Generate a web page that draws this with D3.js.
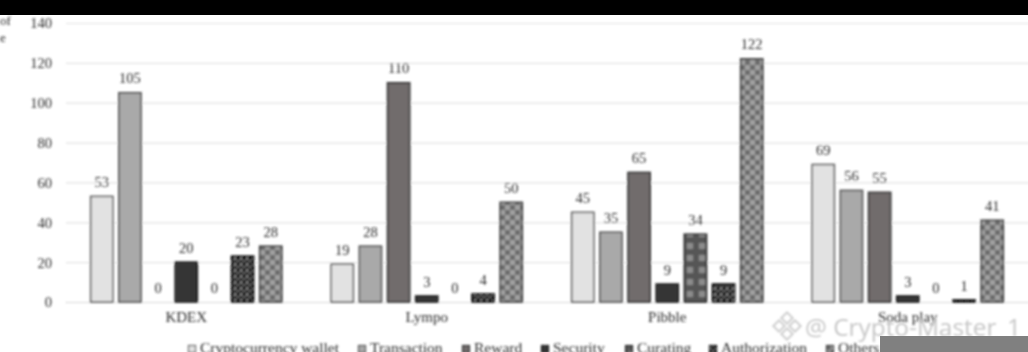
<!DOCTYPE html>
<html><head><meta charset="utf-8">
<script src="https://cdn.jsdelivr.net/npm/d3@7"></script>
<style>
html,body{margin:0;padding:0;background:#fff;overflow:hidden}
svg{display:block}
text{font-family:"Liberation Serif",serif;fill:#2c2c2c}
</style></head><body>
<svg id="c" width="1028" height="352"></svg>
<script>
const categories = ["KDEX","Lympo","Pibble","Soda play"];
const seriesNames = ["Cryptocurrency wallet","Transaction","Reward","Security","Curating","Authorization","Others"];
const cryptocurrencyWallet = [53,19,45,69];
const transaction = [105,28,35,56];
const reward = [0,110,65,55];
const security = [20,3,9,3];
const curating = [0,0,34,0];
const authorization = [23,4,9,1];
const others = [28,50,122,41];
const seriesValues = [cryptocurrencyWallet,transaction,reward,security,curating,authorization,others];
const yTicks = [0,20,40,60,80,100,120,140];

const W=1028,H=352, x0=66, x1=1040, yBase=302, yTop=23;
const svg=d3.select("#c");
const defs=svg.append("defs");
const blur=defs.append("filter").attr("id","soft").attr("filterUnits","userSpaceOnUse")
  .attr("x",-20).attr("y",-20).attr("width",W+40).attr("height",H+40);
blur.append("feGaussianBlur").attr("stdDeviation",0.8);

function pat(id,size,bg,cells,fg){
  const p=defs.append("pattern").attr("id",id).attr("patternUnits","userSpaceOnUse").attr("width",size).attr("height",size);
  p.append("rect").attr("width",size).attr("height",size).attr("fill",bg);
  cells.forEach(c=>p.append("rect").attr("x",c[0]).attr("y",c[1]).attr("width",c[2]).attr("height",c[3]).attr("fill",fg));
}
pat("pSec",2,"#2e2e2e",[[0,0,1,1]],"#4a4a4a");
pat("pCur",12,"#565656",[[3,3,6,6]],"#8c8c8c");
pat("pAut",6,"#101010",[[0,0,2,2],[3,2,2,1],[1,4,1,2],[4,4,1,1]],"#8a8a8a");
pat("pOth",10,"#6c6c6c",[[0,0,5,5],[5,5,5,5]],"#a0a0a0");

const fills=["#e2e2e2","#a9a9a9","#716c6c","url(#pSec)","url(#pCur)","url(#pAut)","url(#pOth)"];
const strokes=["#5c5c5c","#505050","#303030","#1a1a1a","#262626","#101010","#3c3c3c"];
const legendX=[188,358,462,541,625,709,826];

const root=svg.append("g").attr("filter","url(#soft)");
const y=d3.scaleLinear().domain([0,140]).range([yBase,yTop]);
const xBand=240.5;
const xo=d3.scaleBand().domain(categories).range([66,66+xBand*categories.length]).padding(0);
const xi=d3.scaleBand().domain(seriesNames).range([0,xo.bandwidth()]).paddingInner(0.16).paddingOuter(0.85);

const gy=root.append("g").attr("transform",`translate(${x0},0)`)
  .call(d3.axisLeft(y).tickValues(yTicks).tickSize(-(x1-x0)).tickPadding(14).tickFormat(d3.format("d")));
gy.select(".domain").remove();
gy.selectAll("line").attr("stroke","#e2e2e2").attr("stroke-width",1.2);
gy.selectAll("g.tick").filter(d=>d===0).select("line").attr("stroke","#c4c4c4").attr("stroke-dasharray","2 1");
gy.selectAll("text").attr("font-size",14.5).attr("dy","0.34em");

const gx=root.append("g").attr("transform",`translate(0,${yBase})`)
  .call(d3.axisBottom(xo).tickSize(0).tickPadding(9));
gx.select(".domain").remove();
gx.selectAll("text").attr("font-size",15).attr("dy","0.71em");

const groups=root.selectAll("g.s").data(seriesNames).join("g").attr("class","s");
groups.each(function(name,si){
  const rows=categories.map((c,i)=>({c,v:seriesValues[si][i]}));
  const g=d3.select(this);
  g.selectAll("rect").data(rows.filter(d=>d.v>0)).join("rect")
    .attr("x",d=>xo(d.c)+xi(name)+0.75)
    .attr("width",xi.bandwidth()-1.5)
    .attr("y",d=>y(d.v))
    .attr("height",d=>yBase-y(d.v))
    .attr("fill",fills[si]).attr("stroke",strokes[si]).attr("stroke-width",1.6);
  g.selectAll("text").data(rows).join("text")
    .attr("x",d=>xo(d.c)+xi(name)+xi.bandwidth()/2)
    .attr("y",d=>y(d.v)-9.5)
    .attr("text-anchor","middle").attr("font-size",14.5)
    .text(d=>d.v);
});

const lg=root.selectAll("g.l").data(seriesNames).join("g").attr("class","l")
  .attr("transform",(d,i)=>`translate(${legendX[i]},0)`);
lg.append("rect").attr("x",0.5).attr("y",345.5).attr("width",7).attr("height",7)
  .attr("fill",(d,i)=>fills[i]).attr("stroke",(d,i)=>strokes[i]).attr("stroke-width",1.2);
lg.append("text").attr("x",12).attr("y",352.5).attr("font-size",15.5).text(d=>d);

root.append("text").attr("x",0).attr("y",25).attr("font-size",13).text("of");
root.append("text").attr("x",0).attr("y",42).attr("font-size",13).text("e");

const mark=svg.append("g").attr("filter","url(#soft)");
mark.append("g").attr("transform","translate(787,326)").selectAll("path")
  .data([[0,-8],[-8,0],[8,0],[0,8]]).join("path")
  .attr("transform",d=>`translate(${d[0]},${d[1]}) rotate(45)`)
  .attr("d","M-4,-4H4V4H-4Z").attr("fill","none").attr("stroke","#cfcfcf").attr("stroke-width",2);
mark.append("text").attr("x",805).attr("y",336).attr("font-size",24.4)
  .style("font-family","'Open Sans',sans-serif").style("fill","#c6c6c6")
  .text("@ Crypto-Master_1");

svg.append("rect").attr("x",0).attr("y",0).attr("width",W).attr("height",15).attr("fill","#000");
svg.append("rect").attr("x",880).attr("y",336).attr("width",148).attr("height",16).attr("fill","#808080");
</script>
</body></html>
